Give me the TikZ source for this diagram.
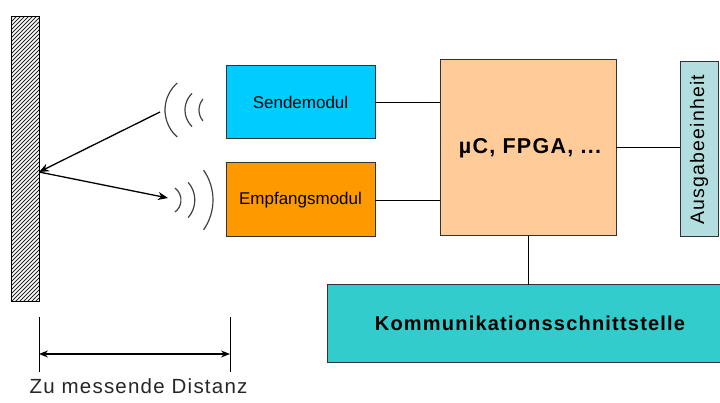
\documentclass[tikz,border=0pt]{standalone}
\usepackage{fontspec}
\setmainfont{Liberation Sans}
\newfontfamily\wideface[LetterSpace=6]{Liberation Sans}
\usetikzlibrary{arrows.meta}
\definecolor{sendc}{HTML}{00CCFF}
\definecolor{empfc}{HTML}{FF9900}
\definecolor{cpuc}{HTML}{FFCC99}
\definecolor{ausc}{HTML}{B2DEDF}
\definecolor{kommc}{HTML}{33CCCC}
\definecolor{edgec}{HTML}{333333}
\tikzset{
  block/.style={draw=edgec, line width=1pt, inner sep=0pt, outer sep=0pt, text=black},
  wire/.style={draw=black, line width=0.9pt},
  ray/.style={draw=black, line width=1.3pt, -{Stealth[length=10pt,width=8pt]}},
  wave/.style={draw=black!75, line width=1.2pt},
  dim/.style={draw=black, line width=1pt},
  dimarrow/.style={draw=black, line width=1.2pt, {Stealth[length=9pt,width=7pt]}-{Stealth[length=9pt,width=7pt]}}
}
\begin{document}
\begin{tikzpicture}[x=1pt, y=-1pt]
\useasboundingbox (0,0) rectangle (720,403);

% reflecting wall with hatching
\node[draw=black, line width=1pt, inner sep=0pt, minimum width=28pt, minimum height=285pt,
  path picture={
    \foreach \k in {-75,...,8}{
      \draw[black!85, line width=0.8pt] ([xshift=\k*4pt]path picture bounding box.south west) -- ++(300pt,300pt);
    }
  }] (wall) at (25,159.5) {};

% modules
\node[block, fill=sendc, minimum width=149pt, minimum height=73pt,
  font=\fontsize{17}{20}\selectfont] (send) at (300.5,102.5) {Sendemodul};
\node[block, fill=empfc, minimum width=149pt, minimum height=74pt,
  font=\fontsize{17}{20}\selectfont] (empf) at (300.5,200) {Empfangsmodul};
\node[block, fill=cpuc, minimum width=176pt, minimum height=176pt,
  font=\wideface\bfseries\fontsize{21.5}{25}\selectfont] (cpu) at (528,148) {\hspace*{4pt}\raisebox{-4pt}{µC, FPGA, ...}};
\node[block, fill=ausc, minimum width=175pt, minimum height=38pt, rotate=90,
  font=\wideface\fontsize{19.5}{23}\selectfont] (aus) at (699,149.5) {\raisebox{-2pt}{Ausgabeeinheit}};
\node[block, fill=kommc, minimum width=406pt, minimum height=77pt,
  font=\wideface\bfseries\fontsize{20}{24}\selectfont] (komm) at (530,323.5) {\raisebox{-11pt}{Kommunikationsschnittstelle}};

% bus connections
\draw[wire] (send.east) -- (send.east -| cpu.west);
\draw[wire] (empf.east) -- (empf.east -| cpu.west);
\draw[wire] (cpu.east |- 0,147) -- (aus.north |- 0,147);
\draw[wire] (cpu.south) -- (cpu.south |- komm.north);

% emitted and reflected rays
\coordinate (tx) at (160,112);
\coordinate (hit) at (39,172);
\coordinate (rx) at (168,198);
\draw[ray] (tx) -- (hit);
\draw[ray] (hit) -- (rx);

% sound waves leaving the transmitter
\draw[wave] (201,110) ++(131.4:36) arc[start angle=131.4, end angle=228.6, radius=36];
\draw[wave] (208,110) ++(134:23) arc[start angle=134, end angle=226, radius=23];
\draw[wave] (216,110) ++(140:17) arc[start angle=140, end angle=220, radius=17];

% echo arriving at the receiver
\draw[wave] (166,200) ++(-53:15) arc[start angle=-53, end angle=53, radius=15];
\draw[wave] (168,200) ++(-41:26.8) arc[start angle=-41, end angle=41, radius=26.8];
\draw[wave] (161,200) ++(-35:52) arc[start angle=-35, end angle=35, radius=52];

% distance dimension
\coordinate (dl1) at (39,317);
\coordinate (dl2) at (39,372);
\coordinate (dr1) at (230,317);
\coordinate (dr2) at (230,372);
\draw[dim] (dl1) -- (dl2);
\draw[dim] (dr1) -- (dr2);
\coordinate (da) at (39,354);
\coordinate (db) at (230,354);
\draw[dimarrow] (da) -- (db);
\node[anchor=base, inner sep=0pt, font=\wideface\fontsize{20.5}{24}\selectfont, text=black!85] (dist) at (138.5,393) {Zu messende Distanz};
\end{tikzpicture}
\end{document}
